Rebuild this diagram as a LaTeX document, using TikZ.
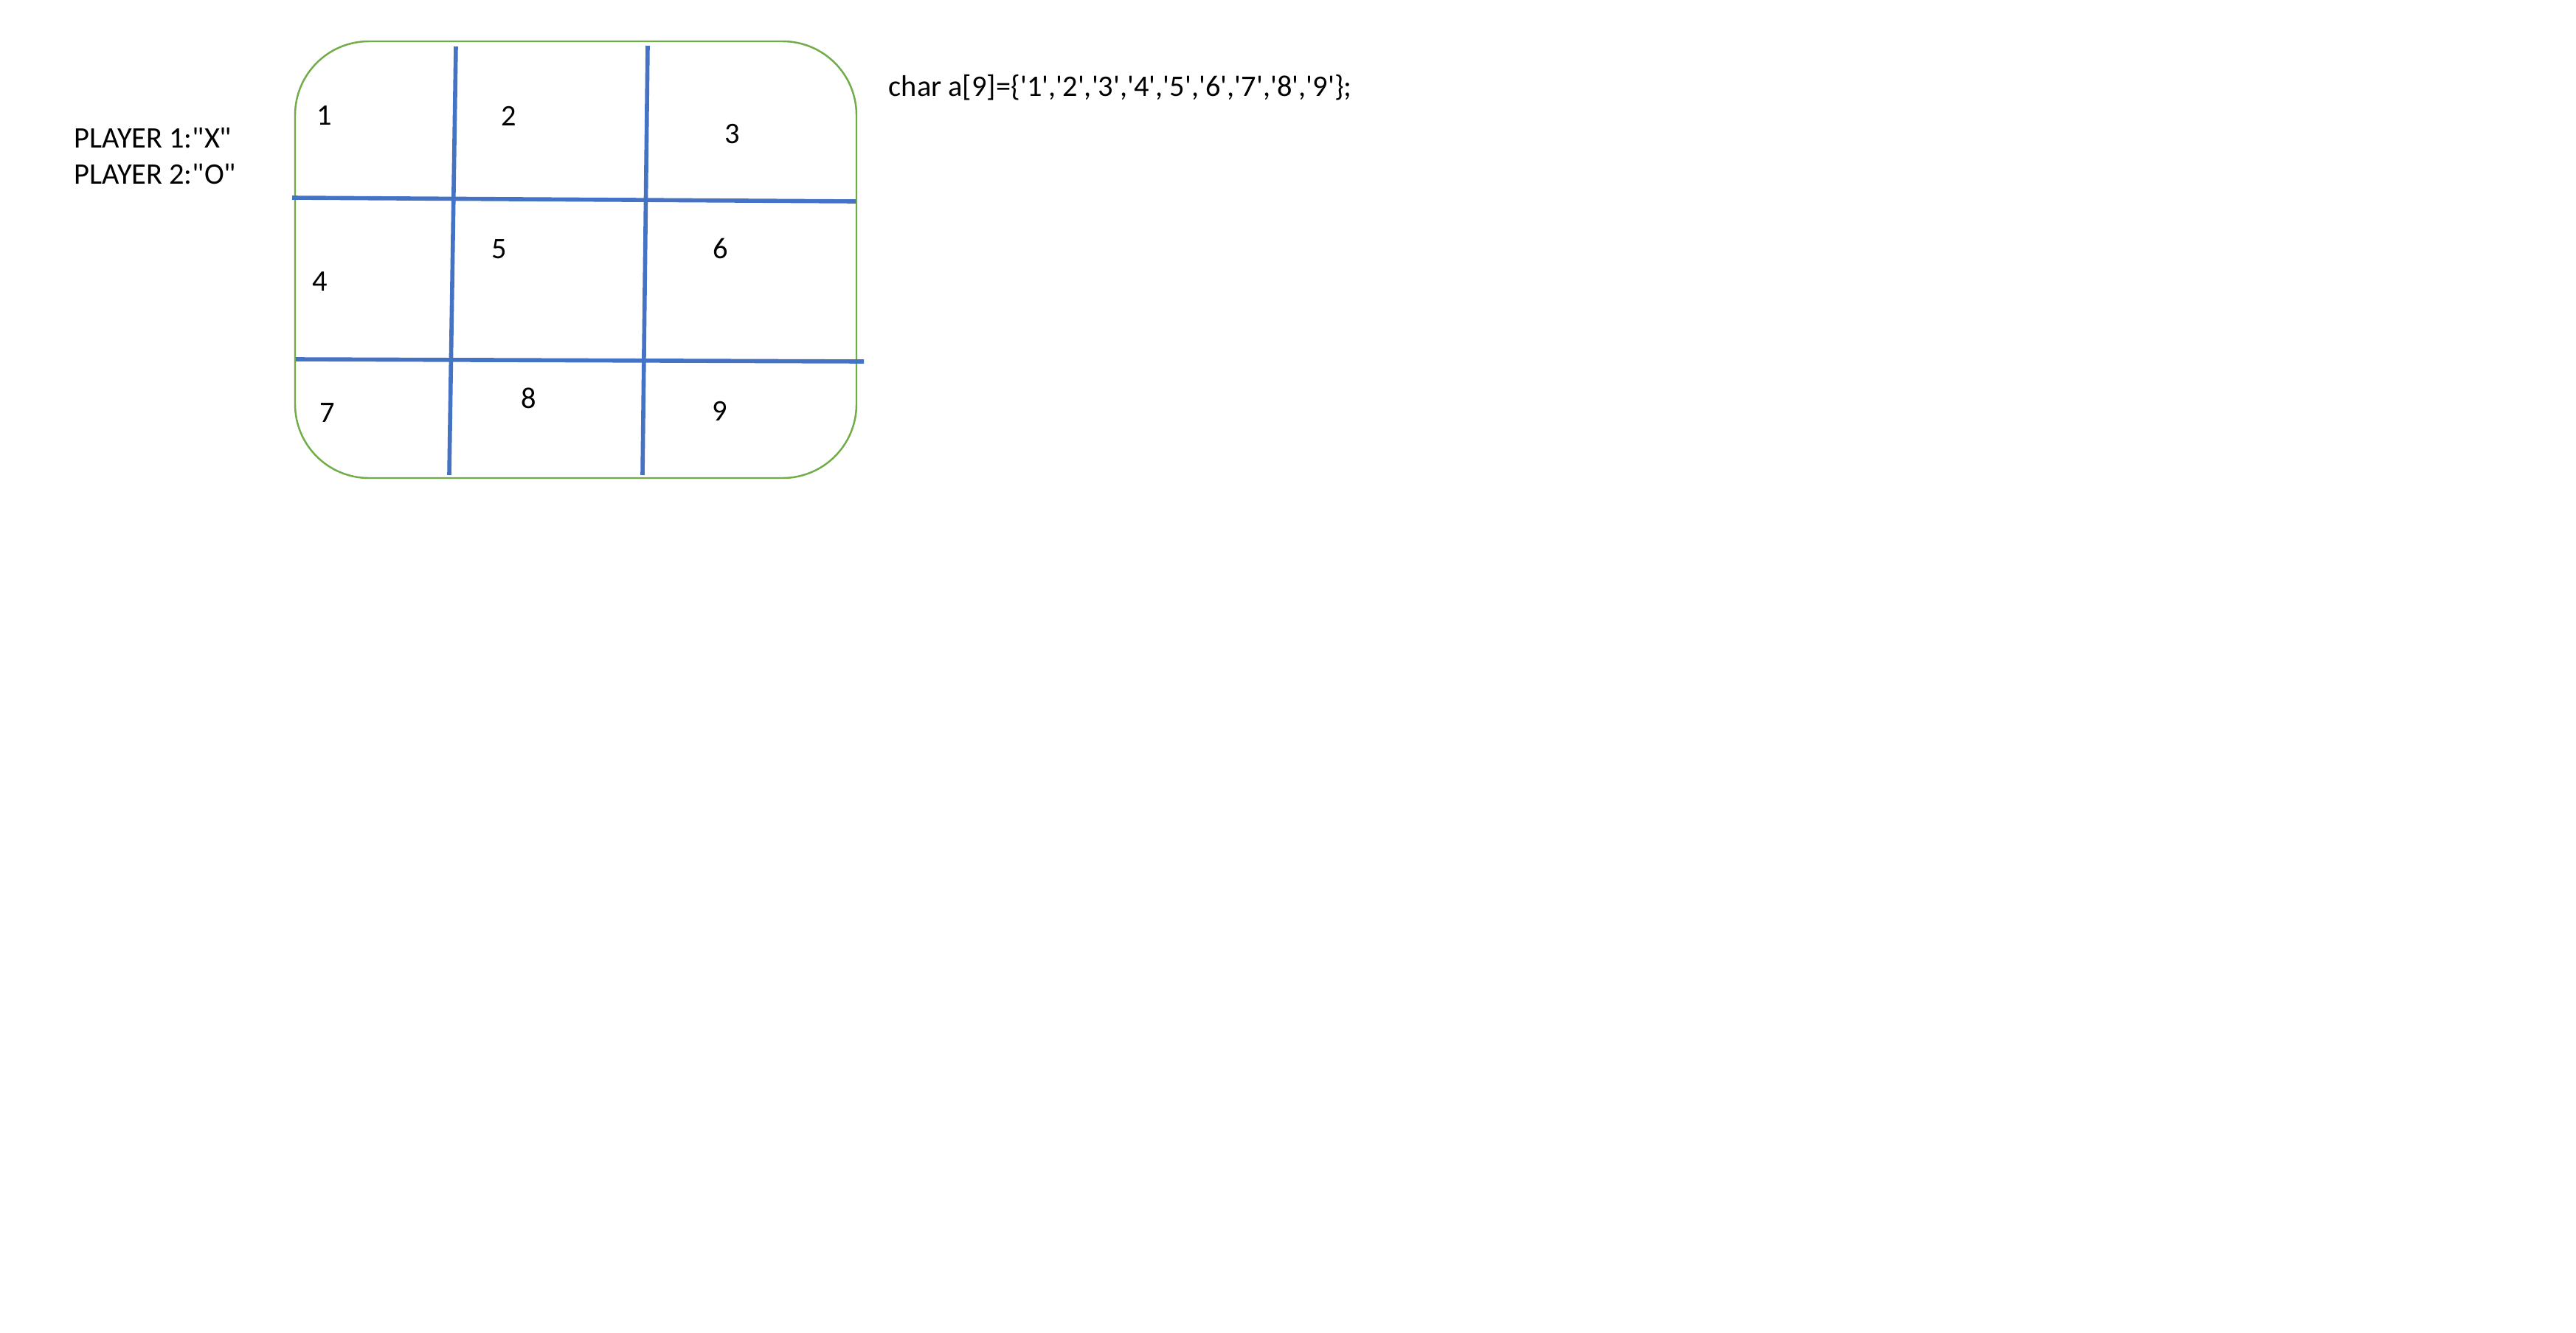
\documentclass[tikz,border=0pt]{standalone}
\usepackage{fontspec}
\setmainfont{Carlito}
\setmonofont{Carlito}
\usepackage{xcolor}
\usepackage{tikz}
\usetikzlibrary{calc, positioning}
\definecolor{boardGreen}{HTML}{70AD47}
\definecolor{lineBlue}{HTML}{4472C4}
\tikzset{
    board/.style={rectangle, draw=boardGreen, line width=0.7pt, rounded corners=1cm, minimum width=7.61cm, minimum height=5.92cm, inner sep=0pt},
    gridLine/.style={draw=lineBlue, line width=1.6pt},
    cellNum/.style={font=\fontsize{11.5}{14}\selectfont, inner sep=0pt},
    label/.style={font=\ttfamily\fontsize{11.5}{14}\selectfont, inner sep=0pt, anchor=base west}
}

\begin{document}
\begin{tikzpicture}
    \useasboundingbox (0,0) rectangle (34.92,-18.06);

    % Players
    \node[label] (p1) at (1.00,-2.00) {PLAYER 1:"X"};
    \node[label] (p2) at (1.00,-2.49) {PLAYER 2:"O"};

    % Board
    \node[board] (board) at (7.805,-3.52) {};
    \draw[gridLine] (6.18,-0.63) -- (6.09,-6.44);
    \draw[gridLine] (8.78,-0.62) -- (8.71,-6.44);
    \draw[gridLine] (3.96,-2.68) -- (11.60,-2.73);
    \draw[gridLine] (4.01,-4.87) -- (11.71,-4.90);

    % Cells
    \node[cellNum] (c1) at (4.40,-1.56) {1};
    \node[cellNum] (c2) at (6.90,-1.57) {2};
    \node[cellNum] (c3) at (9.93,-1.82) {3};
    \node[cellNum] (c4) at (4.34,-3.82) {4};
    \node[cellNum] (c5) at (6.77,-3.38) {5};
    \node[cellNum] (c6) at (9.77,-3.37) {6};
    \node[cellNum] (c7) at (4.44,-5.60) {7};
    \node[cellNum] (c8) at (7.17,-5.40) {8};
    \node[cellNum] (c9) at (9.76,-5.57) {9};

    % Array
    \node[label] (arr) at (12.04,-1.30) {char a[9]=\{'1','2','3','4','5','6','7','8','9'\};};
\end{tikzpicture}
\end{document}
